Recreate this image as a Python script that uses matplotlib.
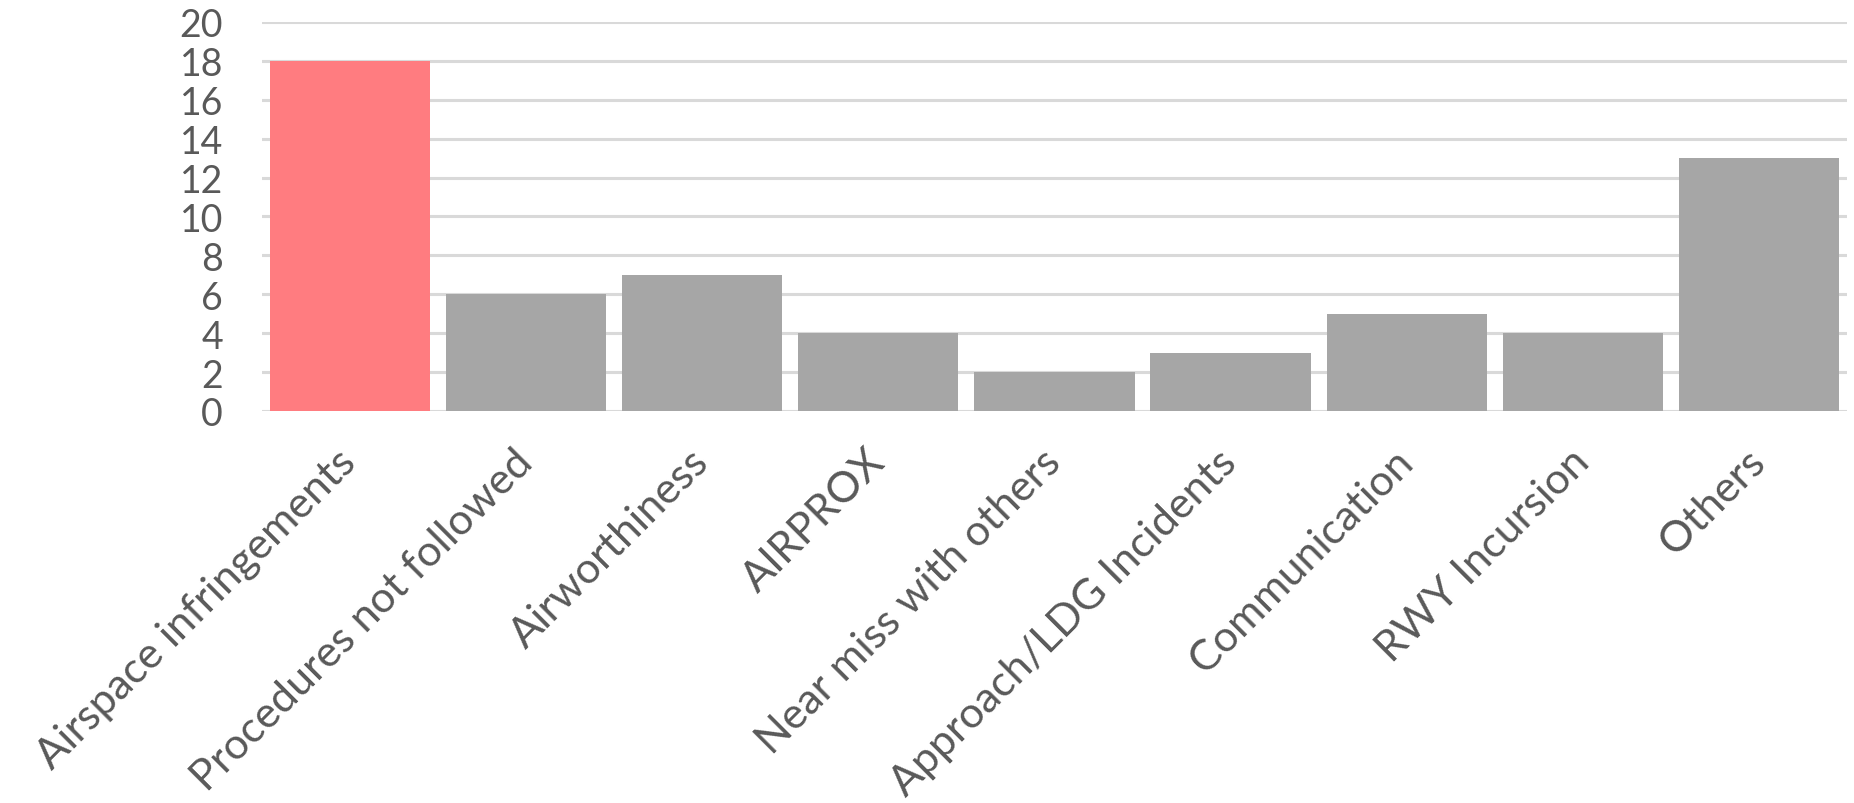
import matplotlib
matplotlib.use("Agg")
import matplotlib.pyplot as plt

categories = ["Airspace infringements", "Procedures not followed", "Airworthiness",
              "AIRPROX", "Near miss with others", "Approach/LDG Incidents",
              "Communication", "RWY Incursion", "Others"]
counts = [18, 6, 7, 4, 2, 3, 5, 4, 13]
highlight = "Airspace infringements"

plt.rcParams['font.family'] = ['Lato', 'DejaVu Sans']

fig = plt.figure(figsize=(18.54, 8.04), dpi=100)
ax = fig.add_axes([0.1413, 0.4876, 0.8549, 0.4838])

colors = ['#FF7C80' if c == highlight else '#A6A6A6' for c in categories]
ax.bar(range(len(categories)), counts, width=0.91, color=colors, zorder=3)

ax.set_xlim(-0.5, len(categories) - 0.5)
ax.set_ylim(0, 20)
ax.set_yticks(range(0, 21, 2))
ax.yaxis.grid(True, color='#D9D9D9', linewidth=2.2, zorder=0)
ax.set_axisbelow(True)
for s in ax.spines.values():
    s.set_visible(False)

ax.set_xticks(range(len(categories)))
ax.set_xticklabels(categories, rotation=45, ha='right', va='center',
                   rotation_mode='anchor')
ax.tick_params(axis='x', length=0, pad=32, labelsize=31, labelcolor='#595959')
ax.tick_params(axis='y', length=0, pad=28, labelsize=27, labelcolor='#595959')

fig.savefig("out.png", dpi=100, facecolor='white')
